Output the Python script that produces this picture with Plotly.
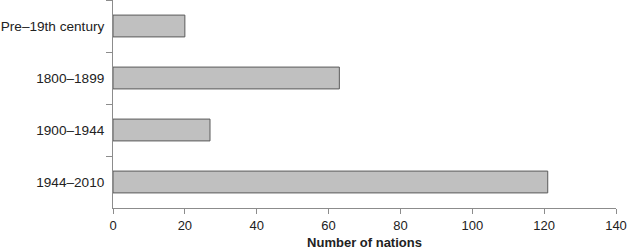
import plotly.graph_objects as go

categories = ["Pre\u201319th century", "1800\u20131899", "1900\u20131944", "1944\u20132010"]
nations = [20, 63, 27, 121]
x_ticks = [0, 20, 40, 60, 80, 100, 120, 140]

fig = go.Figure(go.Bar(
    y=categories, x=nations, orientation="h", width=0.42,
    marker=dict(color="#c0c0c0", line=dict(color="#5a5a5a", width=1)),
))

font = dict(family="Liberation Sans, Arial, sans-serif", size=13, color="#222222")
fig.update_layout(
    width=628, height=250,
    margin=dict(l=113, r=12, t=0, b=42),
    paper_bgcolor="white", plot_bgcolor="white",
    font=font, showlegend=False,
    xaxis=dict(range=[0, 140], tickvals=x_ticks, showgrid=False, zeroline=False,
               showline=True, linecolor="#8c8c8c", linewidth=1,
               ticks="outside", ticklen=5, tickcolor="#8c8c8c",
               title=dict(text="<b>Number of nations</b>", font=dict(size=13), standoff=6)),
    yaxis=dict(categoryorder="array", categoryarray=categories, autorange="reversed",
               showgrid=False, zeroline=False, showline=True, linecolor="#8c8c8c", linewidth=1,
               ticks="outside", ticklen=6, tickcolor="#8c8c8c", tickson="boundaries",
               tickfont=dict(size=13.6), ticklabelstandoff=5),
)
fig.write_html("out.html")
